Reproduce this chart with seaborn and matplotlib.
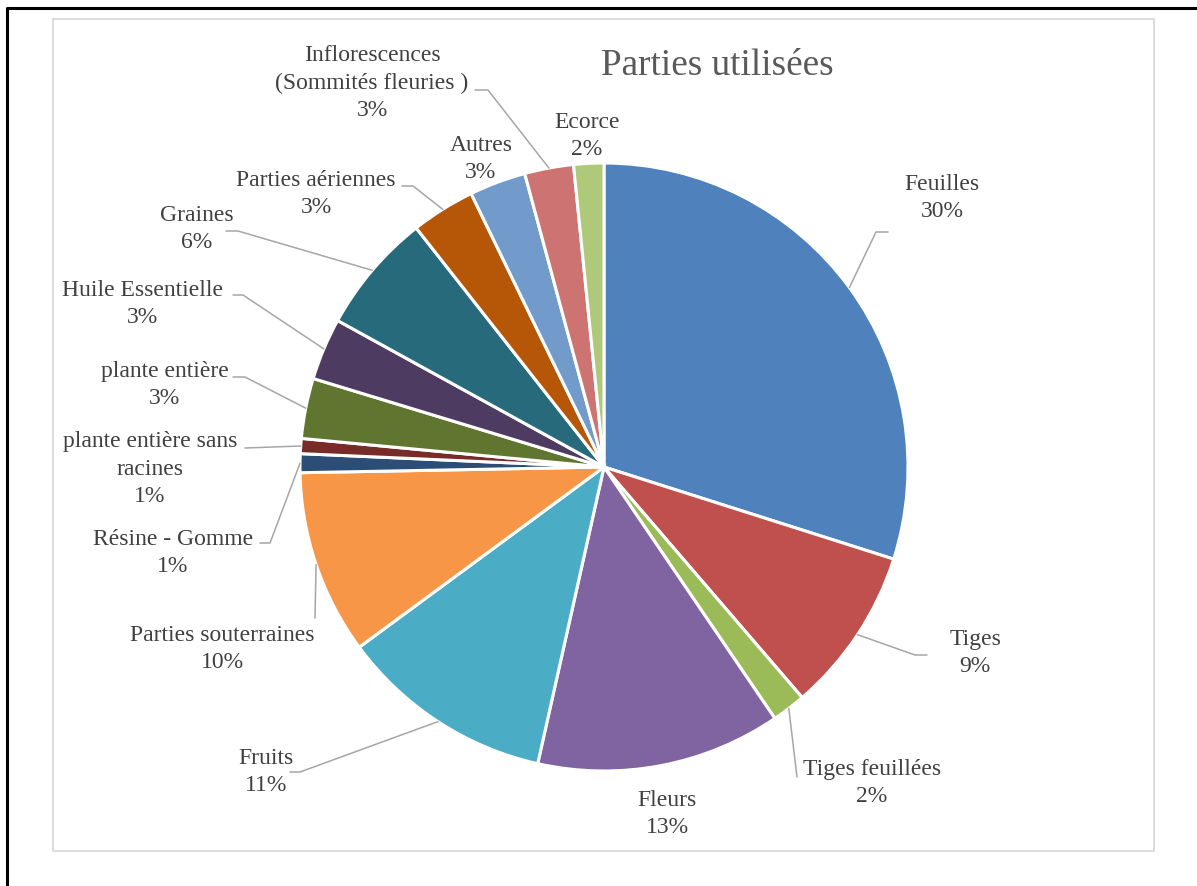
import numpy as np
import matplotlib
matplotlib.use("Agg")
import matplotlib.pyplot as plt
import seaborn as sns

# data (percent of total)
categories = ["Feuilles", "Tiges", "Tiges feuillées", "Fleurs", "Fruits",
              "Parties souterraines", "Résine - Gomme",
              "plante entière sans\nracines", "plante entière",
              "Huile Essentielle", "Graines", "Parties aériennes", "Autres",
              "Inflorescences\n(Sommités fleuries )", "Ecorce"]
values = [29.9, 8.8, 1.8, 13.0, 11.4, 9.8, 1.0, 0.8, 3.2, 3.3, 6.4, 3.4, 3.0, 2.6, 1.6]
colors = ["#4F81BD", "#C0504D", "#9BBB59", "#8064A2", "#4BACC6", "#F79646",
          "#2C4D75", "#772C2A", "#5F7530", "#4D3B62", "#276A7C", "#B65708",
          "#729ACA", "#CD7371", "#AFC97A"]

# layout, in pixels from the top-left corner
W, H = 1197, 886
cx, cy, R = 604, 467, 304
label_pos = [(942, 198), (975, 653), (872, 783), (667, 814), (266, 772),
             (222, 649), (173, 553), (150, 469), (165, 385), (142, 304),
             (197, 229), (316, 194), (481, 159), (372, 83), (587, 136)]
leaders = [[(876, 232), (888, 232)], [(915, 655), (927, 655)], [(797, 777)], None,
           [(300, 772), (290, 772)], [(315, 618)], [(270, 543), (260, 543)],
           [(245, 448)], [(245, 377), (233, 377)], [(243, 295), (233, 295)],
           [(238, 231), (226, 231)], [(413, 186), (402, 186)], None,
           [(488, 90), (475, 90)], None]

sns.set_theme(style="white")
plt.rcParams['font.family'] = ['Liberation Serif', 'DejaVu Serif']

fig = plt.figure(figsize=(W / 100, H / 100), dpi=100)
ax = fig.add_axes([0, 0, 1, 1])

wedges, _ = ax.pie(values, colors=colors, startangle=90, counterclock=False,
                   center=(cx, H - cy), radius=R, frame=False,
                   wedgeprops=dict(edgecolor="white", linewidth=2.2))
ax.set_xlim(0, W)
ax.set_ylim(0, H)
ax.set_aspect("auto")
ax.axis("off")

total = sum(values)
for w, cat, val, (lx, ly), lead in zip(wedges, categories, values, label_pos, leaders):
    pct = f"{round(val / total * 100)}%"
    ax.text(lx, H - ly, f"{cat}\n{pct}", ha="center", va="center",
            fontsize=17, color="#404040", linespacing=1.42)
    if lead is not None:
        th = np.deg2rad((w.theta1 + w.theta2) / 2)
        xs = [cx + R * np.cos(th)] + [p[0] for p in lead]
        ys = [H - cy + R * np.sin(th)] + [H - p[1] for p in lead]
        ax.plot(xs, ys, color="#A6A6A6", lw=1.1)

ax.text(717, H - 75, "Parties utilisées", ha="center", va="baseline",
        fontsize=26.8, color="#595959")

# chart area border and outer frame
ax.plot([53, 1154, 1154, 53, 53], [H - 19, H - 19, H - 851, H - 851, H - 19],
        color="#D9D9D9", lw=1.3, clip_on=False)
ax.plot([7, 7, W], [0, H - 8, H - 8], color="black", lw=2.2, clip_on=False)

fig.savefig("out.png", dpi=100)
